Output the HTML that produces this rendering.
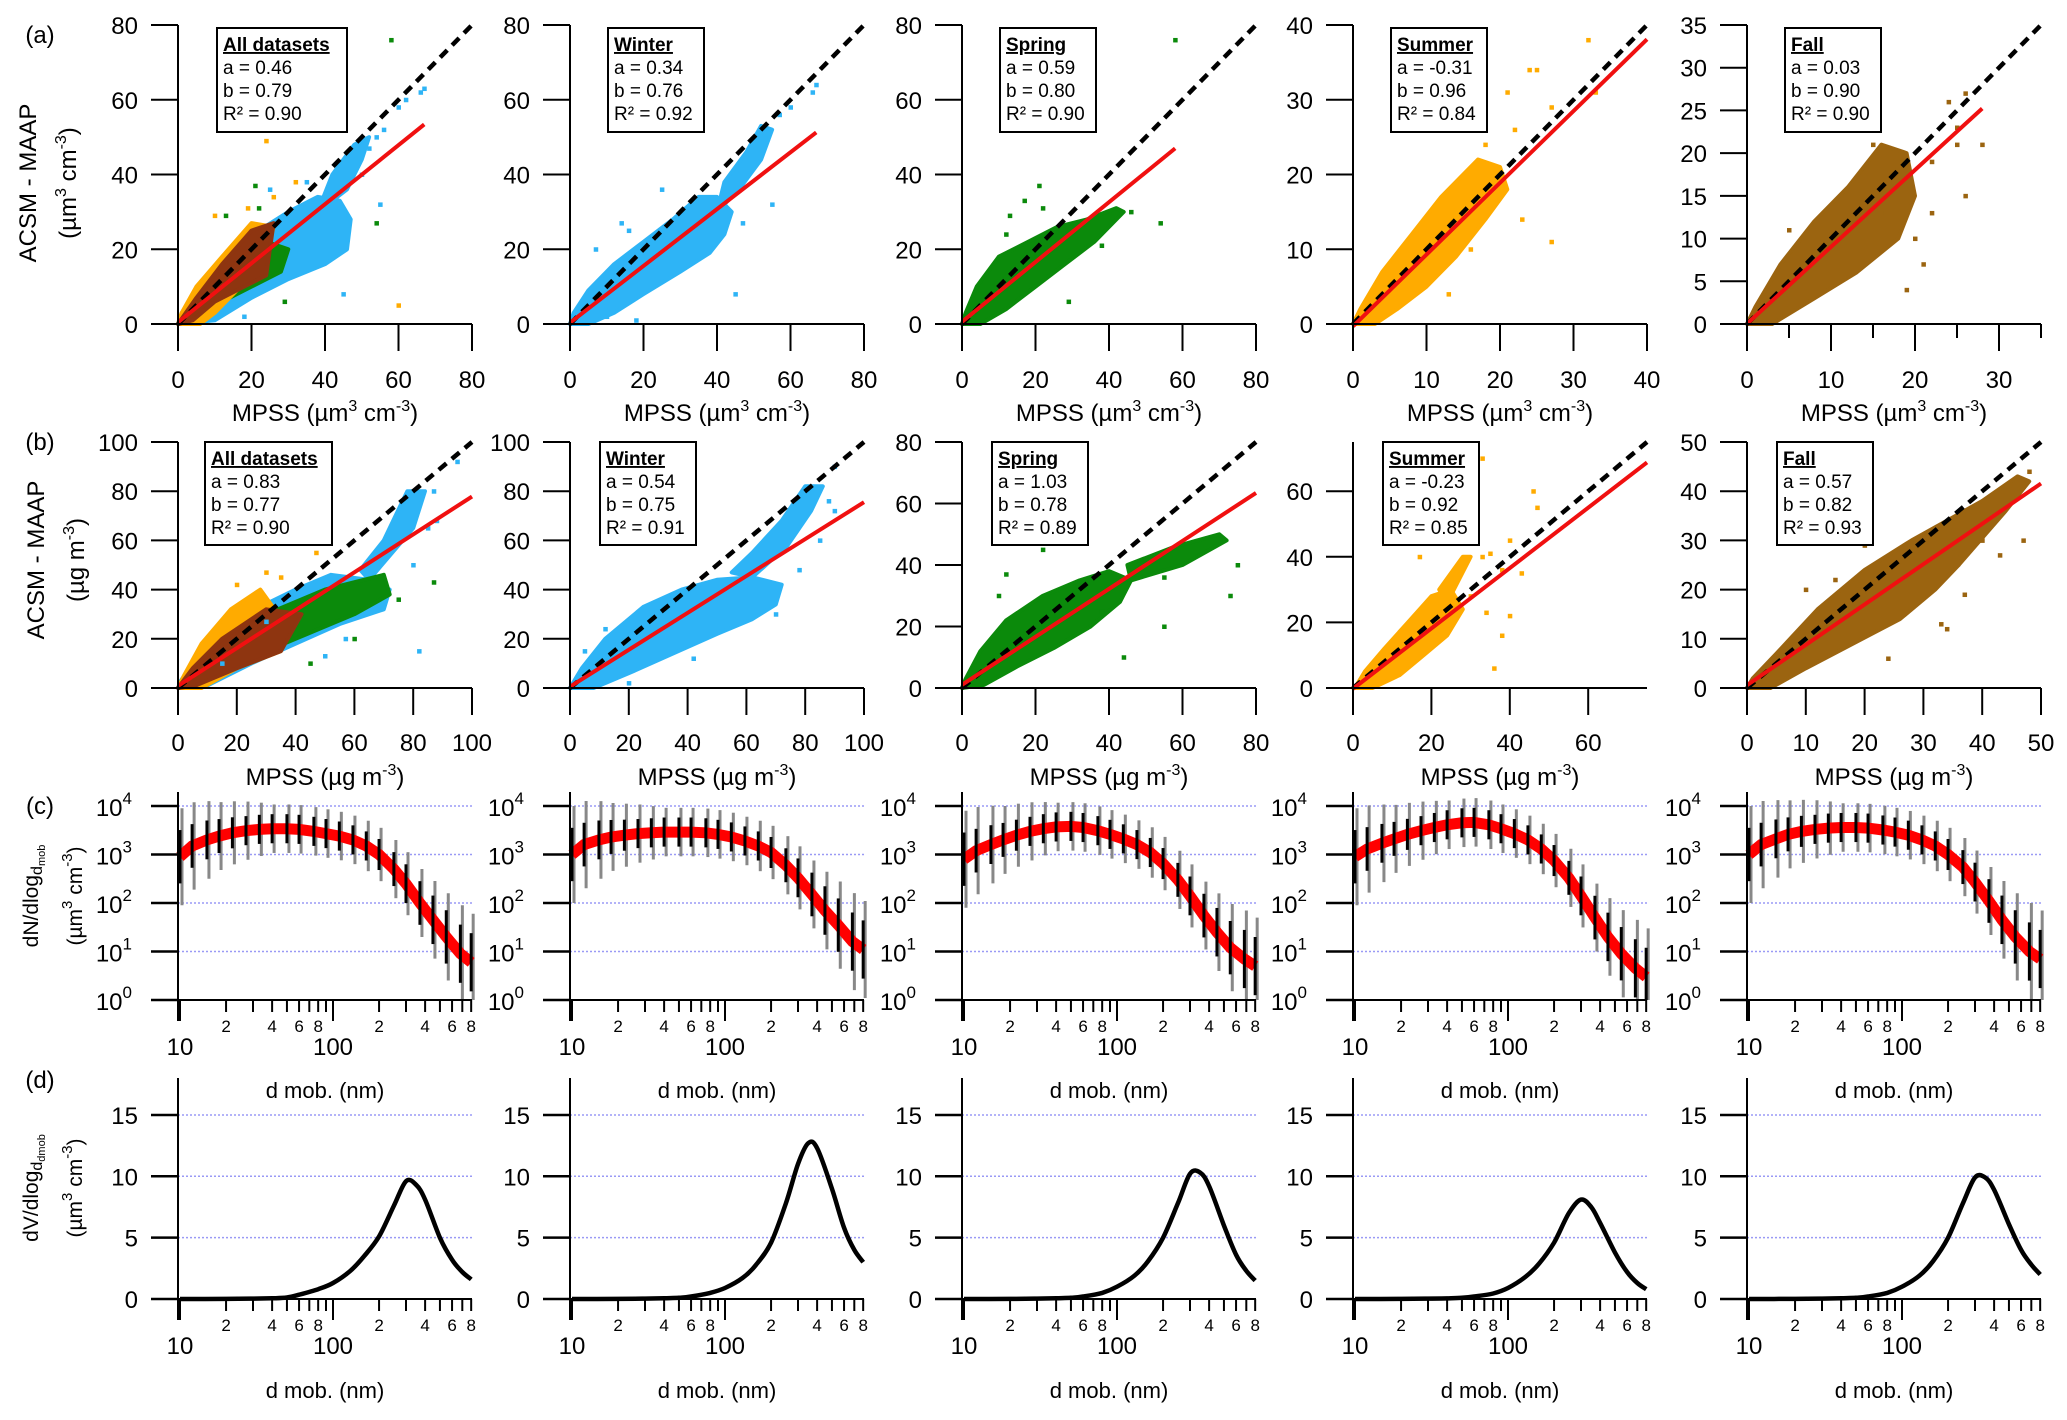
<!DOCTYPE html>
<html><head><meta charset="utf-8"><style>
html,body{margin:0;padding:0;background:#fff}
svg{display:block;font-family:"Liberation Sans",Arial,sans-serif}
</style></head><body>
<svg id="fig" width="2067" height="1420" viewBox="0 0 2067 1420" xmlns="http://www.w3.org/2000/svg"></svg>
<script>
// ---------- data: rows (a)/(b) ----------
const panelNames=["All datasets","Winter","Spring","Summer","Fall"];
const aA=[0.46,0.34,0.59,-0.31,0.03];
const bA=[0.79,0.76,0.80,0.96,0.90];
const r2A=["0.90","0.92","0.90","0.84","0.90"];
const fitEndA=[67,67,58,40,28];
const aB=[0.83,0.54,1.03,-0.23,0.57];
const bB=[0.77,0.75,0.78,0.92,0.82];
const r2B=["0.90","0.91","0.89","0.85","0.93"];
const fitEndB=[100,100,80,75,50];
const xMaxA=[80,80,80,40,35];
const xMaxB=[100,100,80,75,50];
const ticksA=[[0,20,40,60,80],[0,20,40,60,80],[0,20,40,60,80],[0,10,20,30,40],[0,10,20,30]];
const yTicksA=[[0,20,40,60,80],[0,20,40,60,80],[0,20,40,60,80],[0,10,20,30,40],[0,5,10,15,20,25,30,35]];
const ticksB=[[0,20,40,60,80,100],[0,20,40,60,80,100],[0,20,40,60,80],[0,20,40,60],[0,10,20,30,40,50]];
const COL={w:"#2eb4f6",s:"#0b8a0b",u:"#ffab00",f:"#9b6410",m:"#8e3510"};
const hullsA=[
 [["w",[[0,0],[10,1],[20,7],[30,12],[40,16],[46,20],[47,28],[44,33],[38,34],[30,30],[22,25],[14,18],[6,10],[1,3]]],
  ["w",[[38,30],[46,36],[50,44],[52,50],[48,48],[42,40]]],
  ["s",[[2,1],[10,5],[20,10],[28,14],[30,20],[24,22],[14,17],[6,9]]],
  ["u",[[0,0],[6,0],[10,3],[16,9],[24,18],[26,26],[20,27],[12,18],[5,10],[1,3]]],
  ["m",[[0,0],[4,1],[10,6],[18,10],[24,13],[26,27],[20,25],[12,16],[5,7]]]],
 [["w",[[0,0],[5,0],[12,3],[20,8],[30,14],[38,19],[42,24],[44,30],[40,34],[35,34],[28,28],[20,22],[12,16],[5,9],[1,3]]],
  ["w",[[40,30],[46,36],[52,44],[55,52],[52,53],[48,46],[42,38]]]],
 [["s",[[0,0],[5,0],[12,4],[20,10],[28,16],[36,22],[44,30],[42,31],[34,28],[26,26],[18,22],[10,18],[4,10],[1,3]]]],
 [["u",[[0,0],[3,0],[6,2],[10,5],[14,9],[18,14],[21,18],[20,21],[17,22],[12,17],[8,12],[4,7],[1,2]]]],
 [["f",[[0,0],[3,0],[8,3],[13,6],[18,10],[20,15],[19,20],[16,21],[12,16],[8,12],[4,7],[1,2]]]]
];
const ptsA=[
 [["w",[[54,50],[56,52],[60,58],[62,60],[66,62],[67,63],[52,47],[48,45],[50,40],[55,32],[45,8],[18,2],[25,36],[35,38]]],
  ["s",[[58,76],[54,27],[13,29],[22,31],[21,37],[29,6]]],
  ["u",[[24,49],[60,5],[32,38],[26,34],[19,31],[10,29]]]],
 [["w",[[54,52],[57,56],[60,58],[66,62],[67,64],[55,32],[47,27],[45,8],[25,36],[16,25],[14,27],[7,20],[10,2],[18,1]]]],
 [["s",[[58,76],[54,27],[13,29],[22,31],[21,37],[17,33],[29,6],[38,21],[46,30],[12,24]]]],
 [["u",[[32,38],[24,34],[25,34],[27,29],[18,24],[22,26],[23,14],[27,11],[16,10],[13,4],[33,31],[21,31]]]],
 [["f",[[24,26],[26,27],[25,21],[28,21],[26,15],[22,13],[21,7],[19,4],[20,10],[22,19],[25,23],[16,13],[15,21],[5,11]]]]
];
const hullsB=[
 [["w",[[0,0],[10,1],[25,10],[40,18],[55,26],[70,32],[72,40],[65,44],[52,46],[40,40],[28,33],[15,22],[5,10],[1,3]]],
  ["w",[[65,44],[80,65],[84,80],[78,80],[70,60],[62,48]]],
  ["s",[[3,1],[20,10],[40,20],[60,30],[72,38],[70,46],[50,40],[30,30],[10,15]]],
  ["u",[[0,0],[8,0],[20,8],[35,15],[34,30],[28,40],[18,32],[8,18],[2,5]]],
  ["m",[[0,0],[6,1],[20,8],[35,15],[42,30],[30,32],[15,20],[5,8]]]],
 [["w",[[0,0],[8,0],[20,6],[35,14],[50,22],[62,28],[70,34],[72,42],[62,45],[50,44],[38,40],[25,33],[12,20],[4,8],[1,2]]],
  ["w",[[62,45],[74,58],[82,72],[86,82],[80,82],[72,68],[62,55],[55,47]]]],
 [["s",[[0,0],[6,1],[15,7],[25,13],[35,20],[43,28],[46,35],[40,38],[32,35],[22,30],[12,22],[5,12],[1,3]]],
  ["s",[[46,35],[60,40],[72,48],[70,50],[58,46],[45,40]]]],
 [["u",[[0,0],[5,0],[12,4],[18,10],[24,16],[28,24],[25,30],[20,28],[14,20],[8,12],[3,5],[1,1]]],
  ["u",[[24,26],[30,40],[28,40],[22,30]]]],
 [["f",[[0,0],[4,0],[10,4],[18,9],[26,14],[32,20],[36,25],[38,32],[34,34],[28,30],[20,24],[12,16],[5,7],[1,2]]],
  ["f",[[36,25],[44,36],[48,42],[46,43],[40,38],[34,34]]]]
];
const ptsB=[
 [["w",[[87,80],[95,92],[85,65],[80,50],[88,68],[57,20],[82,15],[30,27],[15,10],[50,13]]],
  ["s",[[75,36],[87,43],[60,20],[45,10]]],
  ["u",[[30,47],[47,55],[35,45],[20,42]]]],
 [["w",[[88,76],[90,72],[85,60],[78,48],[70,30],[63,35],[20,2],[30,27],[42,12],[12,24],[5,15],[90,90]]]],
 [["s",[[22,45],[55,36],[50,42],[75,40],[73,30],[55,20],[44,10],[38,25],[12,37],[10,30]]]],
 [["u",[[35,41],[38,36],[33,40],[30,28],[34,23],[40,22],[38,16],[36,6],[43,35],[47,55],[46,60],[33,70],[17,40],[40,45]]]],
 [["f",[[48,44],[47,41],[42,36],[43,27],[40,30],[37,19],[33,13],[34,12],[24,6],[10,20],[20,29],[15,22],[47,30]]]]
];
// ---------- data: row (c) ----------
const diamC=[10,12,15,18,22,27,33,40,50,60,75,90,110,135,165,200,250,300,370,450,550,680,800];
const medC=[
 [900,1500,2000,2400,2800,3100,3300,3400,3400,3300,3000,2700,2400,2000,1500,1000,500,250,100,45,20,9,6],
 [1000,1600,2000,2300,2500,2700,2800,2900,2900,2900,2800,2600,2300,1900,1500,1100,600,330,150,70,35,16,11],
 [800,1200,1600,2000,2500,3000,3400,3700,3800,3600,3100,2600,2100,1600,1100,650,300,140,55,25,12,7,5],
 [900,1300,1700,2100,2600,3100,3600,4100,4500,4600,4100,3400,2700,2000,1300,750,330,140,50,20,9,4.5,3],
 [1000,1600,2100,2600,3000,3300,3500,3600,3600,3500,3200,2900,2500,2000,1500,1000,550,270,110,45,20,10,7]
];
const blackSpread=[0.55,0.45,0.4,0.35,0.32,0.3,0.3,0.3,0.3,0.3,0.3,0.3,0.3,0.3,0.3,0.32,0.35,0.4,0.45,0.5,0.55,0.6,0.6];
const graySpread=[1.0,0.9,0.8,0.7,0.65,0.6,0.55,0.5,0.5,0.5,0.5,0.5,0.5,0.5,0.52,0.55,0.6,0.65,0.7,0.8,0.9,1.0,1.0];
// ---------- data: row (d) ----------
const diamD=[10,20,30,40,50,60,80,100,130,160,200,250,300,350,400,500,600,700,800];
const volD=[
 [0,0.01,0.03,0.06,0.12,0.35,0.8,1.3,2.3,3.5,5.1,7.6,9.6,9.3,8.1,5.0,3.2,2.2,1.6],
 [0,0.01,0.03,0.06,0.1,0.2,0.5,0.9,1.7,2.8,4.6,7.8,11.0,12.7,12.3,9.0,5.8,4.0,3.0],
 [0,0.01,0.03,0.06,0.1,0.2,0.5,1.0,1.9,3.1,5.0,7.8,10.2,10.3,9.2,6.0,3.6,2.3,1.5],
 [0,0.01,0.03,0.05,0.1,0.2,0.45,0.9,1.8,2.9,4.6,7.0,8.1,7.5,6.2,3.8,2.2,1.3,0.8],
 [0,0.01,0.03,0.06,0.1,0.2,0.5,1.0,1.9,3.1,5.0,7.8,9.9,9.9,8.9,6.1,4.0,2.8,2.0]
];

// ---------- layout ----------
const NS="http://www.w3.org/2000/svg";
const svg=document.getElementById("fig");
const X0=[178,570,962,1353,1747], PW=294;
const C_BASE=1000, C_DEC=48.5, C_TOP=792;
const D_BASE=1299, D_UNIT=12.27, D_TOP=1078;
function mk(tag,attrs,parent){const e=document.createElementNS(NS,tag);for(const k in attrs)e.setAttribute(k,attrs[k]);(parent||svg).appendChild(e);return e;}
function txt(x,y,s,size,anchor,parent,extra){const t=mk("text",Object.assign({x:x,y:y,"font-size":size,"text-anchor":anchor||"middle",fill:"#000"},extra||{}),parent);t.textContent=s;return t;}
function sup(t,s,dy,size){const sp=document.createElementNS(NS,"tspan");sp.setAttribute("dy",dy);sp.setAttribute("font-size",size);sp.textContent=s;t.appendChild(sp);return sp;}
function plain(t,s,dy,size){const sp=document.createElementNS(NS,"tspan");sp.setAttribute("dy",dy);if(size)sp.setAttribute("font-size",size);sp.textContent=s;t.appendChild(sp);return sp;}

[["(a)",43],["(b)",450],["(c)",814],["(d)",1088]].forEach(function(r){
 const t=txt(40,r[1],r[0],24,"middle");
 
 
});

function yTitle(name){
 const g=mk("g",{transform:"rotate(-90)"});
 
 
 return g;
}
(function(){
 let g=yTitle("y-axis-title-a");
 let t=txt(-183,36,"ACSM - MAAP",24,"middle",g);
 t=txt(-183,76,"",24,"middle",g);plain(t,"(µm","0");sup(t,"3","-10",16);plain(t," cm","10");sup(t,"-3","-10",16);plain(t,")","10");
 g=yTitle("y-axis-title-b");
 t=txt(-560,44,"ACSM - MAAP",24,"middle",g);
 t=txt(-560,84,"",24,"middle",g);plain(t,"(µg m","0");sup(t,"-3","-10",16);plain(t,")","10");
 g=yTitle("y-axis-title-c");
 t=txt(-896,38,"",21,"middle",g);plain(t,"dN/dlog","0");plain(t,"d","4",16);plain(t,"mob","3",11);
 t=txt(-896,82,"",21,"middle",g);plain(t,"(µm","0");sup(t,"3","-10",15);plain(t," cm","10");sup(t,"-3","-10",15);plain(t,")","10");
 g=yTitle("y-axis-title-d");
 t=txt(-1188,38,"",21,"middle",g);plain(t,"dV/dlog","0");plain(t,"d","4",16);plain(t,"dmob","3",11);
 t=txt(-1188,82,"",21,"middle",g);plain(t,"(µm","0");sup(t,"3","-10",15);plain(t," cm","10");sup(t,"-3","-10",15);plain(t,")","10");
})();

function scatterRow(row){
 const isA=row==="a";
 const yTop=isA?25:442, yBot=isA?324:688;
 const xMaxes=isA?xMaxA:xMaxB;
 const hulls=isA?hullsA:hullsB, pts=isA?ptsA:ptsB;
 const av=isA?aA:aB, bv=isA?bA:bB, rv=isA?r2A:r2B, fe=isA?fitEndA:fitEndB;
 for(let p=0;p<5;p++){
  const max=xMaxes[p];
  const X=v=>X0[p]+v/max*PW;
  const Y=v=>yBot-v/max*(yBot-yTop);
  const g=mk("g",{});
  
  
  hulls[p].forEach(function(h){
   const poly=mk("polygon",{points:h[1].map(q=>X(q[0]).toFixed(1)+","+Y(q[1]).toFixed(1)).join(" "),fill:COL[h[0]],stroke:COL[h[0]],"stroke-width":4,"stroke-linejoin":"round"},g);
   
   
  });
  pts[p].forEach(function(s){
   s[1].forEach(function(q){
    const r=mk("rect",{x:X(q[0])-2,y:Y(q[1])-2,width:4.5,height:4.5,fill:COL[s[0]]},g);
    
    
   });
  });
  const one=mk("line",{x1:X(0),y1:Y(0),x2:X(max),y2:Y(max),stroke:"#000","stroke-width":4.5,"stroke-dasharray":"10,7"},g);
  
  
  const fit=mk("line",{x1:X(0),y1:Y(av[p]),x2:X(fe[p]),y2:Y(av[p]+bv[p]*fe[p]),stroke:"#f01010","stroke-width":4},g);
  
  
  const ax=mk("line",{x1:X0[p],y1:yTop,x2:X0[p],y2:yBot+27,stroke:"#000","stroke-width":2},g);
  
  
  const bx=mk("line",{x1:X0[p]-27,y1:yBot,x2:X0[p]+PW,y2:yBot,stroke:"#000","stroke-width":2},g);
  
  
  const xt=isA?ticksA[p]:ticksB[p];
  const yt=isA?yTicksA[p]:ticksB[p];
  xt.forEach(function(v){
   mk("line",{x1:X(v),y1:yBot,x2:X(v),y2:yBot+27,stroke:"#000","stroke-width":2},g);
   const t=txt(X(v),yBot+(isA?64:63),String(v),24,"middle",g);
   
   
  });
  if(isA&&p===4){[5,15,25,35].forEach(function(v){mk("line",{x1:X(v),y1:yBot,x2:X(v),y2:yBot+14,stroke:"#000","stroke-width":2},g);});}
  yt.forEach(function(v){
   mk("line",{x1:X0[p]-27,y1:Y(v),x2:X0[p],y2:Y(v),stroke:"#000","stroke-width":2},g);
   const t=txt(X0[p]-40,Y(v)+9,String(v),24,"end",g);
   
   
  });
  const tt=txt(X0[p]+147,isA?421:785,"",24,"middle",g);
  if(isA){plain(tt,"MPSS (µm","0");sup(tt,"3","-10",16);plain(tt," cm","10");sup(tt,"-3","-10",16);plain(tt,")","10");}
  else{plain(tt,"MPSS (µg m","0");sup(tt,"-3","-10",16);plain(tt,")","10");}
  
  
  const bxX=X0[p]+(isA?(p===0?39:38):(p===0?27:30));
  const bw=p===0?(isA?130:127):96;
  const bxY=isA?28:442, bh=isA?104:103;
  const box=mk("g",{},g);
  
  
  mk("rect",{x:bxX,y:bxY,width:bw,height:bh,fill:"#fff",stroke:"#000","stroke-width":2},box);
  txt(bxX+6,bxY+23,panelNames[p],19,"start",box,{"font-weight":"bold","text-decoration":"underline"});
  txt(bxX+6,bxY+46,"a = "+av[p].toFixed(2),19,"start",box);
  txt(bxX+6,bxY+69,"b = "+bv[p].toFixed(2),19,"start",box);
  txt(bxX+6,bxY+92,"R² = "+rv[p],19,"start",box);
 }
}
scatterRow("a");scatterRow("b");

function logX(p,d){return X0[p]+2+(Math.log10(d)-1)*153;}
function logAxis(g,p,yAx){
 const bx=mk("line",{x1:X0[p]-27,y1:yAx,x2:X0[p]+PW,y2:yAx,stroke:"#000","stroke-width":2},g);
 
 
 [10,20,30,40,50,60,70,80,90,100,200,300,400,500,600,700,800].forEach(function(d){
  const major=(d===10||d===100);
  mk("line",{x1:logX(p,d),y1:yAx,x2:logX(p,d),y2:yAx+(major?21:12),stroke:"#000","stroke-width":2},g);
  const m=d/Math.pow(10,Math.floor(Math.log10(d)));
  if(!major&&m%2===0){const t=txt(logX(p,d),yAx+32,String(m),17,"middle",g);}
 });
 [10,100].forEach(function(d){const t=txt(logX(p,d),yAx+55,String(d),24,"middle",g);});
}
for(let p=0;p<5;p++){
 const gc=mk("g",{});
 
 
 const cY=v=>Math.min(C_BASE,C_BASE-Math.log10(Math.max(v,1e-3))*C_DEC);
 [1,2,3,4].forEach(function(k){mk("line",{x1:X0[p],y1:C_BASE-k*C_DEC,x2:X0[p]+PW,y2:C_BASE-k*C_DEC,stroke:"#9a9af5","stroke-width":1.5,"stroke-dasharray":"2,2"},gc);});
 diamC.forEach(function(d,i){
  const lm=Math.log10(medC[p][i]);
  const gb=mk("line",{x1:logX(p,d)+2,y1:cY(Math.pow(10,lm+graySpread[i])),x2:logX(p,d)+2,y2:cY(Math.pow(10,lm-graySpread[i])),stroke:"#888","stroke-width":3},gc);
  
  
 });
 const red=mk("polyline",{points:diamC.map((d,i)=>logX(p,d).toFixed(1)+","+cY(medC[p][i]).toFixed(1)).join(" "),fill:"none",stroke:"#f00","stroke-width":11},gc);
 
 
 diamC.forEach(function(d,i){
  const lm=Math.log10(medC[p][i]);
  const bb=mk("line",{x1:logX(p,d),y1:cY(Math.pow(10,lm+blackSpread[i])),x2:logX(p,d),y2:cY(Math.pow(10,lm-blackSpread[i])),stroke:"#000","stroke-width":3},gc);
  
  
 });
 mk("line",{x1:X0[p],y1:C_TOP,x2:X0[p],y2:C_BASE+21,stroke:"#000","stroke-width":2},gc);
 [0,1,2,3,4].forEach(function(k){
  const y=C_BASE-k*C_DEC;
  mk("line",{x1:X0[p]-27,y1:y,x2:X0[p],y2:y,stroke:"#000","stroke-width":2.5},gc);
  const t=txt(X0[p]-46,y+10,"10",24,"end",gc);sup(t,String(k),"-12",17);
  
  
 });
 logAxis(gc,p,C_BASE);
 const tc=txt(X0[p]+147,1098,"d mob. (nm)",22,"middle",gc);
 
 

 const gd=mk("g",{});
 
 
 const dY=v=>D_BASE-v*D_UNIT;
 [5,10,15].forEach(function(v){mk("line",{x1:X0[p],y1:dY(v),x2:X0[p]+PW,y2:dY(v),stroke:"#9a9af5","stroke-width":1.5,"stroke-dasharray":"2,2"},gd);});
 const P=diamD.map((d,i)=>[logX(p,d),dY(volD[p][i])]);
 let dstr="M"+P[0][0].toFixed(1)+","+P[0][1].toFixed(1);
 for(let i=0;i<P.length-1;i++){
  const p0=P[Math.max(0,i-1)],p1=P[i],p2=P[i+1],p3=P[Math.min(P.length-1,i+2)];
  const c1=[p1[0]+(p2[0]-p0[0])/6,p1[1]+(p2[1]-p0[1])/6],c2=[p2[0]-(p3[0]-p1[0])/6,p2[1]-(p3[1]-p1[1])/6];
  dstr+=" C"+c1[0].toFixed(1)+","+c1[1].toFixed(1)+" "+c2[0].toFixed(1)+","+c2[1].toFixed(1)+" "+p2[0].toFixed(1)+","+p2[1].toFixed(1);
 }
 const cv=mk("path",{d:dstr,fill:"none",stroke:"#000","stroke-width":4.5,"stroke-linejoin":"round"},gd);
 
 
 mk("line",{x1:X0[p],y1:D_TOP,x2:X0[p],y2:D_BASE+21,stroke:"#000","stroke-width":2},gd);
 [0,5,10,15].forEach(function(v){
  mk("line",{x1:X0[p]-27,y1:dY(v),x2:X0[p],y2:dY(v),stroke:"#000","stroke-width":2.5},gd);
  const t=txt(X0[p]-40,dY(v)+9,String(v),24,"end",gd);
  
  
 });
 logAxis(gd,p,D_BASE);
 const td=txt(X0[p]+147,1398,"d mob. (nm)",22,"middle",gd);
 
 
}
</script>
</body></html>
